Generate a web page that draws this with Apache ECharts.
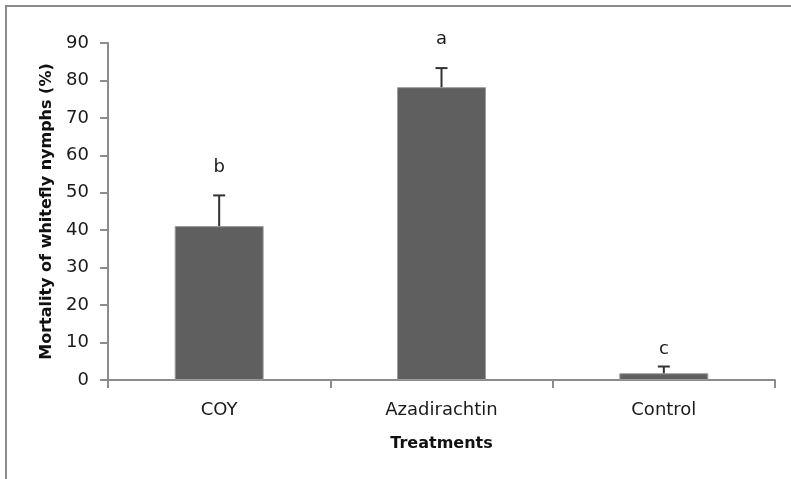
<!DOCTYPE html>
<html>
<head>
<meta charset="utf-8">
<script src="https://cdn.jsdelivr.net/npm/echarts@6/dist/echarts.min.js"></script>
<style>
html,body{margin:0;padding:0;background:#fff;}
#chart{width:791px;height:479px;}
</style>
</head>
<body>
<div id="chart"></div>
<script>
var categories = ['COY', 'Azadirachtin', 'Control'];
var mortality = [41.1, 78.2, 1.8];
var errorUpper = [49.3, 83.3, 3.6];
var letters = ['b', 'a', 'c'];
var letterBaseline = [54.3, 88.6, 5.8];
var yTicks = [0, 10, 20, 30, 40, 50, 60, 70, 80, 90];

var FONT = 'DejaVu Sans';
var chart = echarts.init(document.getElementById('chart'), null, {renderer: 'canvas'});

var errData = categories.map(function (c, i) { return [i, mortality[i], errorUpper[i]]; });
var letterData = categories.map(function (c, i) { return [i, letterBaseline[i], letters[i]]; });

chart.setOption({
  backgroundColor: '#ffffff',
  animation: false,
  graphic: [{
    type: 'rect',
    shape: {x: 6, y: 6, width: 900, height: 600},
    style: {fill: 'none', stroke: '#8a8a8a', lineWidth: 2},
    z: 100
  }],
  grid: {left: 108, right: 16, top: 43, bottom: 99, containLabel: false},
  xAxis: {
    type: 'category',
    data: categories,
    name: 'Treatments',
    nameLocation: 'middle',
    nameGap: 56,
    nameTextStyle: {fontFamily: FONT, fontSize: 16, fontWeight: 'bold', color: '#111'},
    axisLine: {lineStyle: {color: '#8c8c8c', width: 2}},
    axisTick: {show: true, length: 8, lineStyle: {color: '#8c8c8c', width: 2}, alignWithLabel: false},
    axisLabel: {fontFamily: FONT, fontSize: 18, color: '#1a1a1a', margin: 21}
  },
  yAxis: {
    type: 'value',
    min: 0, max: 90, interval: 10,
    name: 'Mortality of whitefly nymphs (%)',
    nameLocation: 'middle',
    nameGap: 53,
    nameRotate: 90,
    nameTextStyle: {fontFamily: FONT, fontSize: 16, fontWeight: 'bold', color: '#111'},
    axisLine: {show: true, lineStyle: {color: '#8c8c8c', width: 2}},
    axisTick: {show: true, length: 8, lineStyle: {color: '#8c8c8c', width: 2}},
    axisLabel: {fontFamily: FONT, fontSize: 18, color: '#1a1a1a', margin: 19,
      formatter: function (v) { return yTicks.indexOf(v) >= 0 ? String(v) : ''; }},
    splitLine: {show: false}
  },
  series: [
    {
      type: 'bar',
      data: mortality,
      barWidth: '40%',
      itemStyle: {color: '#5f5f5f', borderColor: '#9a9a9a', borderWidth: 1},
      z: 2
    },
    {
      type: 'custom',
      data: errData,
      z: 3,
      renderItem: function (params, api) {
        var x = api.value(0);
        var p0 = api.coord([x, api.value(1)]);
        var p1 = api.coord([x, api.value(2)]);
        var half = 6;
        return {
          type: 'group',
          children: [
            {type: 'line', shape: {x1: p0[0], y1: p0[1], x2: p1[0], y2: p1[1]}, style: {stroke: '#333', lineWidth: 2}},
            {type: 'line', shape: {x1: p1[0] - half, y1: p1[1], x2: p1[0] + half, y2: p1[1]}, style: {stroke: '#333', lineWidth: 2}}
          ]
        };
      }
    },
    {
      type: 'custom',
      data: letterData,
      z: 4,
      renderItem: function (params, api) {
        var p = api.coord([api.value(0), api.value(1)]);
        return {
          type: 'text',
          x: p[0], y: p[1],
          style: {text: letters[params.dataIndex], fontFamily: FONT, fontSize: 18, fill: '#1a1a1a',
                  align: 'center', verticalAlign: 'bottom'}
        };
      }
    }
  ]
});
</script>
</body>
</html>
